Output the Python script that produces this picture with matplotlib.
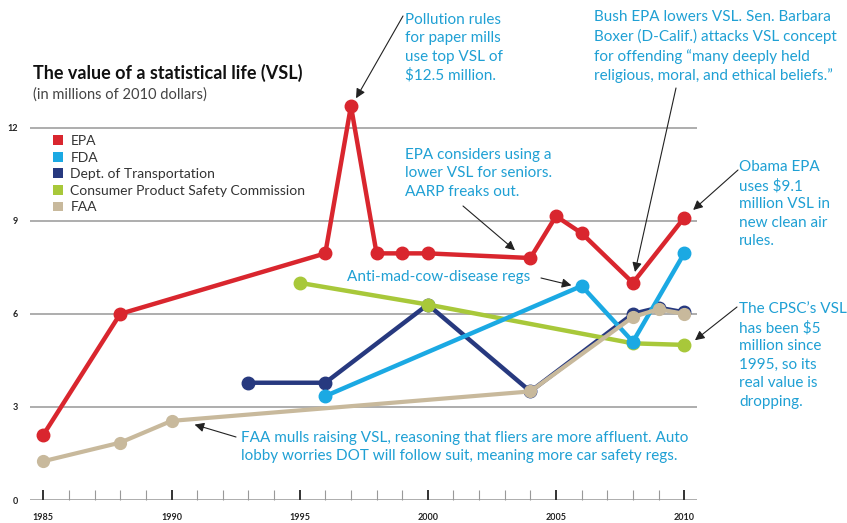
"""
The value of a statistical life (VSL), by agency, 1985-2010.
Re-drawn as a flat matplotlib figure -> out.png (847 x 523 px).
"""
import matplotlib
matplotlib.use("Agg")
import matplotlib.pyplot as plt
from matplotlib.patches import Patch

plt.rcParams["font.family"] = ["Lato", "DejaVu Sans"]

# ---- data (millions of 2010 dollars) ----
years_epa = [1985, 1988, 1996, 1997, 1998, 1999, 2000, 2004, 2005, 2006, 2008, 2010]
vsl_epa = [2.1, 6.0, 7.95, 12.7, 7.95, 7.95, 7.95, 7.8, 9.15, 8.6, 7.0, 9.1]

years_fda = [1996, 2006, 2008, 2010]
vsl_fda = [3.35, 6.9, 5.1, 7.95]

years_dot = [1993, 1996, 2000, 2004, 2008, 2009, 2010]
vsl_dot = [3.78, 3.78, 6.3, 3.5, 6.0, 6.2, 6.05]

years_cpsc = [1995, 2000, 2008, 2010]
vsl_cpsc = [7.0, 6.3, 5.05, 5.0]

years_faa = [1985, 1988, 1990, 2004, 2008, 2009, 2010]
vsl_faa = [1.25, 1.85, 2.55, 3.5, 5.9, 6.15, 6.0]

y_ticks = [0, 3, 6, 9, 12]
x_ticks = [1985, 1990, 1995, 2000, 2005, 2010]

legend_labels = ["EPA", "FDA", "Dept. of Transportation",
                 "Consumer Product Safety Commission", "FAA"]

COL = {
    "epa": "#d9262e",
    "fda": "#1ba9e3",
    "dot": "#27397f",
    "cpsc": "#a8c83a",
    "faa": "#c8b99c",
}
NOTE = "#1fa0d4"
W, H = 847, 523


def fp(px, py):
    """Top-left pixel position -> figure fraction."""
    return px / W, 1 - py / H


fig = plt.figure(figsize=(W / 100, H / 100), dpi=100)
fig.patch.set_facecolor("white")
ax = fig.add_axes([30 / W, 23 / H, 667 / W, 418.8 / H])
ax.set_xlim(1984.48, 2010.5)
ax.set_ylim(0, 13.5)
for s in ax.spines.values():
    s.set_visible(False)

for v in y_ticks:
    ax.axhline(v, color="#a0a0a0", linewidth=1.2, zorder=1)

# ticks: every year, heavier every five years
ax.set_xticks(range(1985, 2011), minor=True)
ax.set_xticks(x_ticks)
ax.set_xticklabels([str(x) for x in x_ticks], fontsize=6.5, fontweight="bold",
                   color="#222222")
ax.tick_params(axis="x", which="major", direction="in", length=7, width=1.4,
               color="#333333", pad=9)
ax.tick_params(axis="x", which="minor", direction="in", length=7, width=0.8,
               color="#999999")
ax.set_yticks(y_ticks)
ax.set_yticklabels([str(v) for v in y_ticks], fontsize=6.5, fontweight="bold",
                   color="#222222")
ax.tick_params(axis="y", length=0, pad=9)

line_kw = dict(linewidth=3.2, marker="o", markersize=9, solid_capstyle="round")
ax.plot(years_dot, vsl_dot, color=COL["dot"], zorder=3, **line_kw)
ax.plot(years_cpsc, vsl_cpsc, color=COL["cpsc"], zorder=4, **line_kw)
ax.plot(years_fda, vsl_fda, color=COL["fda"], zorder=5, **line_kw)
ax.plot(years_faa, vsl_faa, color=COL["faa"], zorder=6,
        linewidth=3.0, marker="o", markersize=8.5)
ax.plot(years_epa, vsl_epa, color=COL["epa"], zorder=7, **line_kw)

# legend
handles = [Patch(facecolor=COL[k], edgecolor="none")
           for k in ("epa", "fda", "dot", "cpsc", "faa")]
leg = ax.legend(handles, legend_labels, loc="upper left",
                bbox_to_anchor=fp(53, 135), bbox_transform=fig.transFigure,
                frameon=False, fontsize=10, handlelength=0.7, handleheight=0.7,
                handletextpad=0.55, labelspacing=0.33, borderaxespad=0,
                borderpad=0)
for t in leg.get_texts():
    t.set_color("#333333")

# titles
fig.text(*fp(33, 73), "The value of a statistical life (VSL)", fontsize=13,
         fontweight="bold", color="#111111", va="center")
fig.text(*fp(33, 95), "(in millions of 2010 dollars)", fontsize=10.5,
         color="#444444", va="center")

# annotations: (text, top-left pixel position, arrow start pixel, arrow tip in data)
note_kw = dict(fontsize=11, color=NOTE, va="top", ha="left", linespacing=1.4)
notes = [
    ("Pollution rules\nfor paper mills\nuse top VSL of\n$12.5 million.",
     (405, 13), (403, 16), (1997.2, 12.95)),
    ("Bush EPA lowers VSL. Sen. Barbara\nBoxer (D-Calif.) attacks VSL concept\n"
     "for offending \u201cmany deeply held\nreligious, moral, and ethical beliefs.\u201d",
     (594, 10), (676, 88), (2008.08, 7.35)),
    ("EPA considers using a\nlower VSL for seniors.\nAARP freaks out.",
     (405, 148), (463, 206), (2003.4, 8.05)),
    ("Obama EPA\nuses $9.1\nmillion VSL in\nnew clean air\nrules.",
     (739, 160), (738, 170), (2010.35, 9.35)),
    ("Anti-mad-cow-disease regs",
     (347, 270), (541, 278), (2005.6, 6.92)),
    ("The CPSC\u2019s VSL\nhas been $5\nmillion since\n1995, so its\nreal value is\ndropping.",
     (739, 302), (737, 307), (2010.42, 5.15)),
    ("FAA mulls raising VSL, reasoning that fliers are more affluent. Auto\n"
     "lobby worries DOT will follow suit, meaning more car safety regs.",
     (241, 431), (236, 437), (1990.9, 2.43)),
]
for text, pos, start, tip in notes:
    fig.text(*fp(*pos), text, **note_kw)
    ax.annotate("", xy=tip, xycoords="data",
                xytext=fp(*start), textcoords="figure fraction",
                arrowprops=dict(arrowstyle="-|>", color="#222222", lw=0.8,
                                mutation_scale=14, shrinkA=0, shrinkB=0),
                annotation_clip=False, zorder=8)

fig.savefig("out.png", dpi=100, facecolor="white")
